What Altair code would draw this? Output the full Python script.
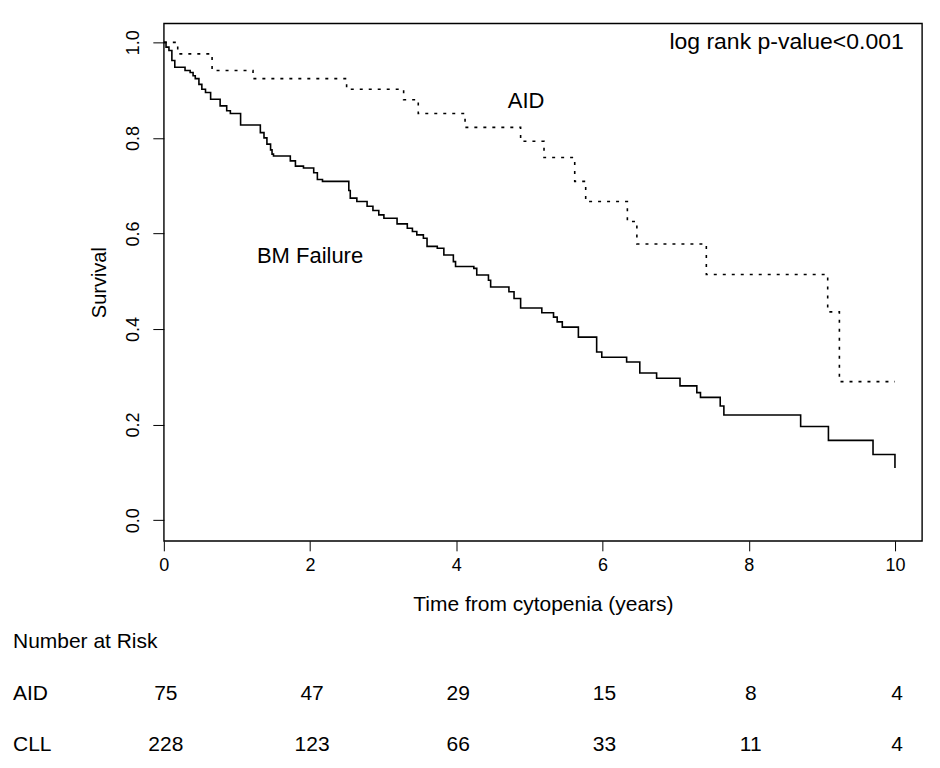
import altair as alt
import pandas as pd

# ---- Data ----
cll_time = [0.0, 0.03, 0.07, 0.11, 0.15, 0.29, 0.36, 0.40, 0.43, 0.48, 0.52, 0.57, 0.64, 0.77, 0.86, 0.91,
            1.05, 1.32, 1.37, 1.41, 1.46, 1.48, 1.50, 1.73, 1.80, 1.91, 2.05, 2.10, 2.17, 2.53, 2.55, 2.64,
            2.78, 2.86, 2.94, 3.01, 3.19, 3.33, 3.40, 3.46, 3.55, 3.60, 3.74, 3.83, 3.96, 3.99, 4.24, 4.28,
            4.44, 4.47, 4.72, 4.79, 4.88, 5.17, 5.33, 5.38, 5.45, 5.67, 5.92, 5.99, 6.33, 6.51, 6.74, 7.06,
            7.29, 7.34, 7.61, 7.66, 8.71, 9.09, 9.70, 10.0]
cll_surv = [1.0, 0.99, 0.983, 0.962, 0.948, 0.941, 0.937, 0.930, 0.924, 0.912, 0.902, 0.895, 0.881, 0.867, 0.857, 0.851,
            0.827, 0.811, 0.800, 0.787, 0.775, 0.766, 0.762, 0.752, 0.741, 0.737, 0.727, 0.713, 0.709, 0.690, 0.674, 0.667,
            0.657, 0.648, 0.639, 0.632, 0.620, 0.611, 0.604, 0.597, 0.590, 0.573, 0.569, 0.555, 0.541, 0.531, 0.527, 0.513,
            0.502, 0.488, 0.478, 0.464, 0.444, 0.434, 0.425, 0.415, 0.404, 0.383, 0.352, 0.341, 0.331, 0.308, 0.297, 0.281,
            0.267, 0.257, 0.239, 0.220, 0.196, 0.167, 0.1375, 0.109]

aid_time = [0.0, 0.19, 0.66, 1.22, 2.50, 3.28, 3.48, 4.12, 4.88, 5.20, 5.62, 5.77, 6.34, 6.47, 7.42, 9.08, 9.24, 10.0]
aid_surv = [1.0, 0.976, 0.941, 0.924, 0.902, 0.880, 0.851, 0.822, 0.793, 0.759, 0.709, 0.667, 0.625, 0.578, 0.514, 0.436, 0.290, 0.290]

risk_times = [0, 2, 4, 6, 8, 10]
risk_aid = [75, 47, 29, 15, 8, 4]
risk_cll = [228, 123, 66, 33, 11, 4]

x_ticks = [0, 2, 4, 6, 8, 10]
y_ticks = [0.0, 0.2, 0.4, 0.6, 0.8, 1.0]

FONT = "Liberation Sans"

cll_df = pd.DataFrame({"time": cll_time, "surv": cll_surv})
aid_df = pd.DataFrame({"time": aid_time, "surv": aid_surv})
aid_risk_df = pd.DataFrame({"time": risk_times, "n": [str(v) for v in risk_aid]})
cll_risk_df = pd.DataFrame({"time": risk_times, "n": [str(v) for v in risk_cll]})

x_scale = alt.Scale(domain=[0, 10.37], nice=False, zero=False)
y_scale = alt.Scale(domain=[-0.0433, 1.0397], nice=False, zero=False)

x_axis = alt.Axis(values=x_ticks, format="d", title="Time from cytopenia (years)", grid=False, domain=False,
                  tickSize=10, tickColor="black", tickWidth=1, labelPadding=6, labelFontSize=18, labelFont=FONT,
                  labelColor="black", labelFlush=False, labelOverlap=False, titleFontSize=21, titleFont=FONT,
                  titleFontWeight="normal", titleColor="black", titlePadding=19)
y_axis = alt.Axis(values=y_ticks, format=".1f", title="Survival", grid=False, domain=False,
                  tickSize=11, tickColor="black", tickWidth=1, labelAngle=270, labelAlign="center",
                  labelBaseline="bottom", labelPadding=10, labelFontSize=18, labelFont=FONT, labelColor="black",
                  labelFlush=False, labelOverlap=False, titleFontSize=20, titleFont=FONT,
                  titleFontWeight="normal", titleColor="black", titlePadding=15)

X = alt.X("time:Q", scale=x_scale, axis=x_axis)
Y = alt.Y("surv:Q", scale=y_scale, axis=y_axis)

cll_line = alt.Chart(cll_df).mark_line(interpolate="step-after", color="black", strokeWidth=1.6).encode(x=X, y=Y)
aid_line = alt.Chart(aid_df).mark_line(interpolate="step-after", color="black", strokeWidth=1.6,
                                       strokeDash=[3, 6]).encode(x=X, y=Y)

ann_df = pd.DataFrame({"time": [4.955, 2.0], "surv": [0.877, 0.552], "label": ["AID", "BM Failure"]})
ann = alt.Chart(ann_df).mark_text(font=FONT, fontSize=22, color="black", baseline="middle", align="center").encode(
    x=X, y=Y, text="label:N")

pv_df = pd.DataFrame({"time": [10.12], "surv": [1.0], "label": ["log rank p-value<0.001"]})
pv = alt.Chart(pv_df).mark_text(font=FONT, fontSize=23, color="black", baseline="middle", align="right").encode(
    x=X, y=Y, text="label:N")

text_style = dict(font=FONT, fontSize=21, color="black", baseline="middle")

risk_title = alt.Chart(pd.DataFrame({"label": ["Number at Risk"]})).mark_text(align="left", **text_style).encode(
    x=alt.value(-151), y=alt.value(619), text="label:N")
aid_row_label = alt.Chart(pd.DataFrame({"label": ["AID"]})).mark_text(align="left", **text_style).encode(
    x=alt.value(-151), y=alt.value(671), text="label:N")
cll_row_label = alt.Chart(pd.DataFrame({"label": ["CLL"]})).mark_text(align="left", **text_style).encode(
    x=alt.value(-151), y=alt.value(722.5), text="label:N")
aid_risk = alt.Chart(aid_risk_df).mark_text(align="center", dx=2, **text_style).encode(
    x=X, y=alt.value(671), text="n:N")
cll_risk = alt.Chart(cll_risk_df).mark_text(align="center", dx=2, **text_style).encode(
    x=X, y=alt.value(722.5), text="n:N")

chart = alt.layer(cll_line, aid_line, ann, pv, risk_title, aid_row_label, cll_row_label, aid_risk, cll_risk).properties(
    width=759, height=518,
    autosize=alt.AutoSizeParams(type="none"),
    padding={"left": 156, "top": 15, "right": 10, "bottom": 225},
    background="white",
).configure_view(stroke="black", strokeWidth=1.4)

chart.save("out.html", embed_options={"renderer": "svg", "actions": False})
